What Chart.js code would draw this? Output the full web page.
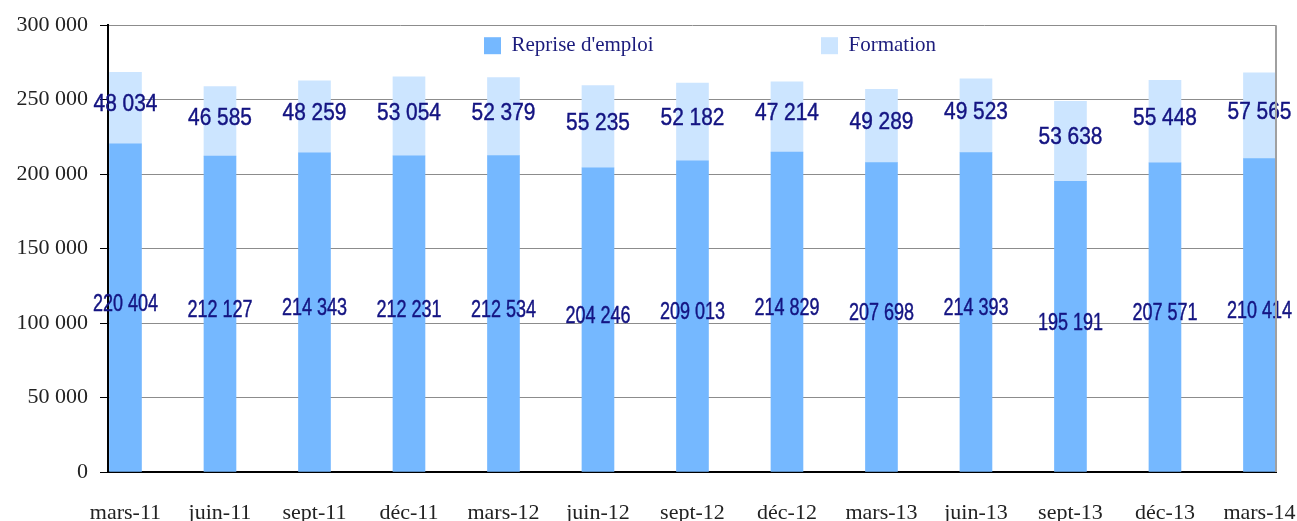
<!DOCTYPE html>
<html>
<head>
<meta charset="utf-8">
<script src="https://cdn.jsdelivr.net/npm/chart.js@4"></script>
<style>
  html, body { margin: 0; padding: 0; background: #fff; overflow: hidden; }
  #wrap { position: relative; width: 1297px; height: 540px; }
</style>
</head>
<body>
<div id="wrap"><canvas id="chart"></canvas></div>
<script>
// données du graphique
const categories = ['mars-11', 'juin-11', 'sept-11', 'déc-11', 'mars-12', 'juin-12', 'sept-12',
  'déc-12', 'mars-13', 'juin-13', 'sept-13', 'déc-13', 'mars-14'];
const repriseEmploi = [220404, 212127, 214343, 212231, 212534, 204246, 209013, 214829, 207698, 214393, 195191, 207571, 210414];
const formation = [48034, 46585, 48259, 53054, 52379, 55235, 52182, 47214, 49289, 49523, 53638, 55448, 57565];
const yTicks = [0, 50000, 100000, 150000, 200000, 250000, 300000];

const serif = '"Liberation Serif", "DejaVu Serif", serif';

// 220404 -> "220 404"
function fmt(v) {
    return String(v).replace(/\B(?=(\d{3})+(?!\d))/g, ' ');
}

// étiquettes de valeurs au milieu de chaque segment (police étroite simulée)
const labelSquash = [0.75, 0.87];
const valueLabels = {
    id: 'valueLabels',
    afterDatasetsDraw(chart) {
        const ctx = chart.ctx;
        ctx.save();
        ctx.font = '24px "Liberation Sans", Arial, sans-serif';
        ctx.fillStyle = '#141482';
        ctx.strokeStyle = '#141482';
        ctx.lineWidth = 0.45;
        ctx.textAlign = 'center';
        ctx.textBaseline = 'middle';
        chart.data.datasets.forEach((ds, i) => {
            chart.getDatasetMeta(i).data.forEach((bar, j) => {
                const txt = fmt(ds.data[j].y);
                ctx.save();
                ctx.translate(bar.x, (bar.y + bar.base) / 2 - 3.5);
                ctx.scale(labelSquash[i], 1);
                ctx.fillText(txt, 0, 0);
                ctx.strokeText(txt, 0, 0);
                ctx.restore();
            });
        });
        ctx.restore();
    }
};

// légende posée dans la zone du graphique + cadre droit gris
const frame = {
    id: 'frame',
    beforeInit(chart) {
        const leg = chart.legend;
        if (leg && !leg._patched) {
            const fit = leg.fit;
            leg.fit = function () {
                fit.call(this);
                this.height = 0;
            };
            leg.draw = function () {
                if (this.options.display) this._draw();
            };
            leg._patched = true;
        }
    },
    afterLayout(chart) {
        chart.legend.left += 72;
        chart.legend.right += 72;
    },
    afterDraw(chart) {
        const a = chart.chartArea;
        const ctx = chart.ctx;
        ctx.save();
        ctx.strokeStyle = '#a0a0a0';
        ctx.lineWidth = 2;
        ctx.beginPath();
        ctx.moveTo(a.right, a.top);
        ctx.lineTo(a.right, a.bottom);
        ctx.stroke();
        ctx.restore();
    }
};

new Chart(document.getElementById('chart'), {
    type: 'bar',
    data: {
        datasets: [{
            label: "Reprise d'emploi" + '\u2003'.repeat(7) + '\u2002',
            data: repriseEmploi.map((v, i) => ({ x: i, y: v })),
            backgroundColor: '#75b8ff',
            borderWidth: 0,
            barThickness: 32
        }, {
            label: 'Formation',
            data: formation.map((v, i) => ({ x: i, y: v })),
            backgroundColor: '#cce5ff',
            borderWidth: 0,
            barThickness: 32
        }]
    },
    options: {
        responsive: true,
        maintainAspectRatio: false,
        animation: false,
        layout: { padding: { top: 24, right: 21, left: 0, bottom: 0 } },
        plugins: {
            tooltip: { enabled: false },
            legend: {
                position: 'top',
                labels: {
                    boxWidth: 17,
                    boxHeight: 17,
                    padding: 10,
                    color: '#1c1c7c',
                    font: { family: serif, size: 21 }
                }
            }
        },
        scales: {
            x: {
                type: 'linear',
                stacked: true,
                offset: false,
                min: -0.185,
                max: 12.175,
                grid: { display: false, drawTicks: false },
                border: { display: true, color: '#000', width: 2 },
                ticks: {
                    stepSize: 1,
                    includeBounds: false,
                    autoSkip: false,
                    maxRotation: 0,
                    padding: 28,
                    color: '#222',
                    font: { family: serif, size: 22 },
                    callback: v => Number.isInteger(v) ? categories[v] : ''
                },
                afterFit(scale) {
                    scale.height = 68;
                    scale.paddingLeft = 0;
                    scale.paddingRight = 0;
                }
            },
            y: {
                stacked: true,
                min: 0,
                max: 300000,
                afterBuildTicks(scale) {
                    scale.ticks = yTicks.map(v => ({ value: v }));
                },
                grid: { color: '#8c8c8c', tickColor: '#000', tickLength: 8, lineWidth: 1 },
                border: { display: true, color: '#000', width: 2 },
                ticks: {
                    padding: 12,
                    color: '#222',
                    font: { family: serif, size: 22 },
                    callback: v => fmt(v)
                },
                afterFit(scale) {
                    scale.width = 108;
                }
            }
        }
    },
    plugins: [valueLabels, frame]
});
</script>
</body>
</html>
